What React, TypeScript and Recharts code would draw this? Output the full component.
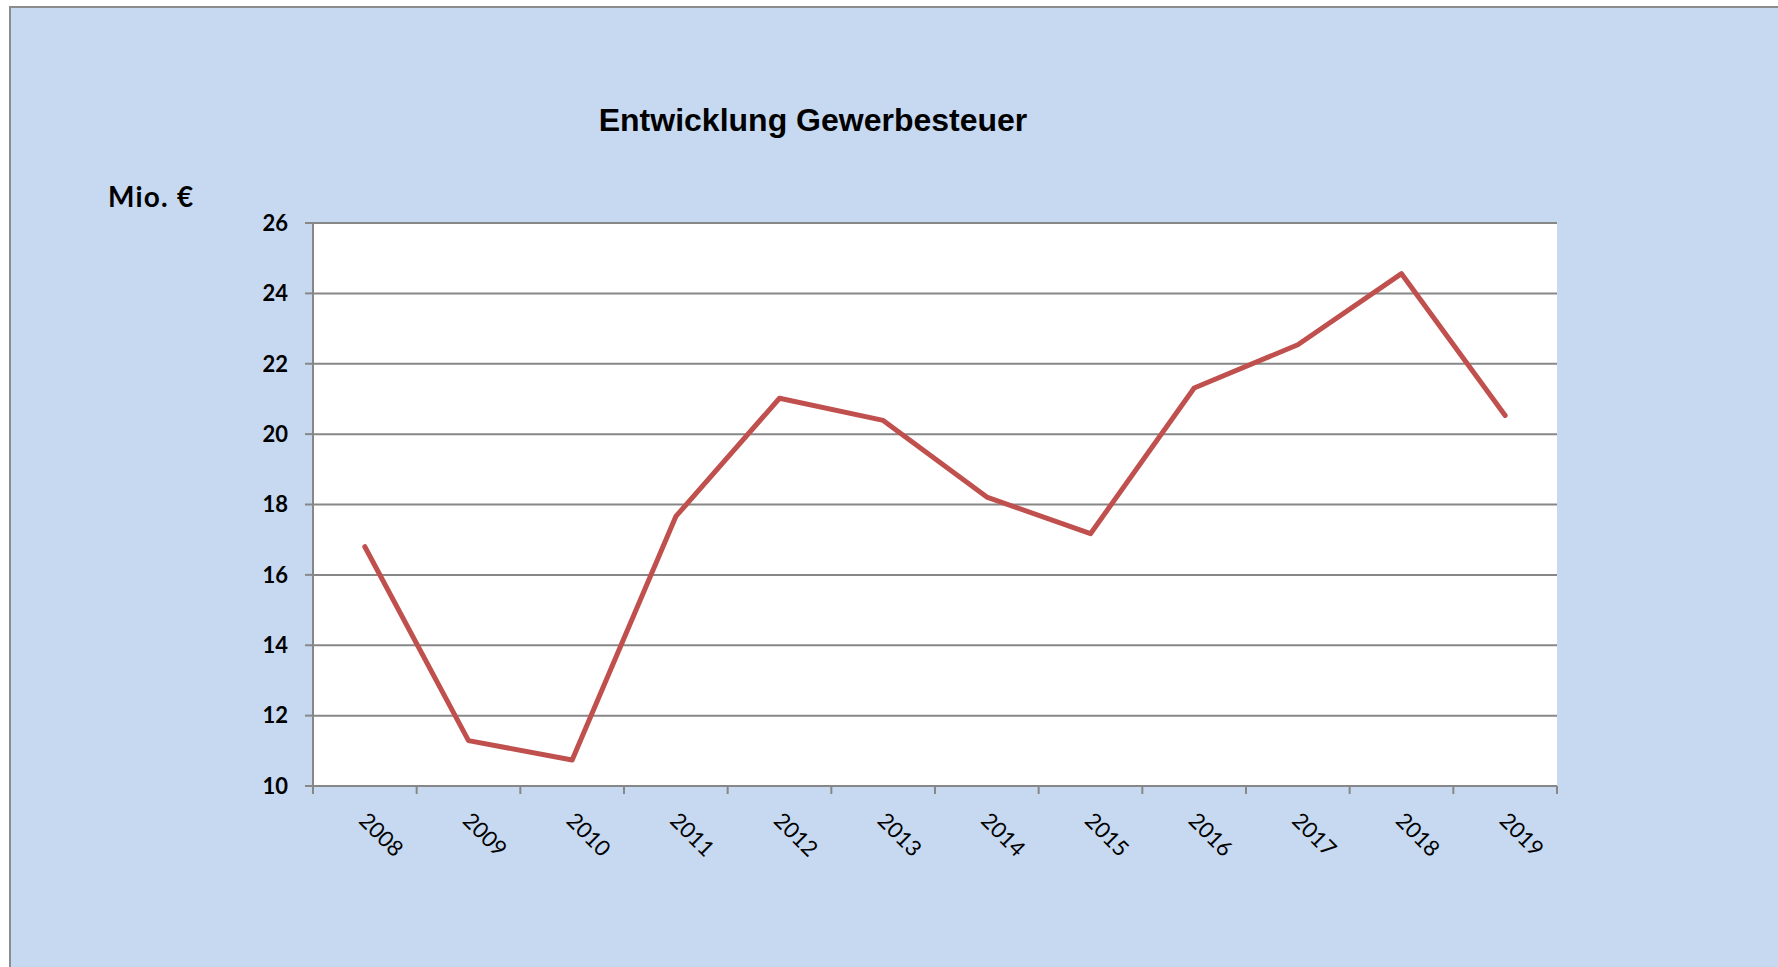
import { LineChart, Line, XAxis, YAxis, CartesianGrid } from 'recharts';

// Gewerbesteuer in Mio. €
const years = [2008, 2009, 2010, 2011, 2012, 2013, 2014, 2015, 2016, 2017, 2018, 2019];
const gewerbesteuer = [16.8, 11.29, 10.74, 17.66, 21.02, 20.39, 18.21, 17.17, 21.31, 22.54, 24.56, 20.53];
const yTicks = [10, 12, 14, 16, 18, 20, 22, 24, 26];

const data = years.map((year, i) => ({ year, value: gewerbesteuer[i] }));
// tick marks sit between the years, labels on the years
const xTicks = [...years.flatMap((y) => [y - 0.5, y]), years[years.length - 1] + 0.5];

const W = 1778;
const H = 967;
const gridGray = '#878787';

function YearTick({ x, y, payload }: any) {
  const v = payload.value;
  if (!Number.isInteger(v)) {
    return <line x1={x} y1={y} x2={x} y2={y + 8} stroke={gridGray} strokeWidth={2} />;
  }
  const ty = y + 30;
  return (
    <text
      x={x - 1}
      y={ty}
      transform={`rotate(45 ${x - 1} ${ty})`}
      textAnchor="start"
      dominantBaseline="central"
      fontFamily="Lato, 'Open Sans', sans-serif"
      fontSize={22}
      fill="#000"
    >
      {v}
    </text>
  );
}

export default function App() {
  return (
    <div style={{ position: 'absolute', left: 0, top: 0, width: W, height: H, overflow: 'hidden', background: '#fff' }}>
      <div
        style={{
          position: 'absolute',
          left: 9,
          top: 6,
          width: W,
          height: H + 20,
          background: '#C6D9F1',
          border: '2px solid #8c8c8c',
          boxSizing: 'border-box',
        }}
      />
      <div style={{ position: 'absolute', left: 0, top: 0 }}>
        <LineChart width={W} height={H} data={data} margin={{ top: 223, right: 221, bottom: 81, left: 0 }}>
          <CartesianGrid horizontal vertical={false} fill="#fff" stroke={gridGray} strokeWidth={2} strokeOpacity={1} />
          <XAxis
            dataKey="year"
            type="number"
            domain={[2007.5, 2019.5]}
            ticks={xTicks}
            interval={0}
            height={100}
            tickSize={0}
            tickMargin={0}
            tickLine={false}
            axisLine={{ stroke: gridGray, strokeWidth: 2 }}
            tick={<YearTick />}
          />
          <YAxis
            type="number"
            domain={[10, 26]}
            ticks={yTicks}
            interval={0}
            width={313}
            tickSize={8}
            tickMargin={17}
            tickLine={{ stroke: gridGray, strokeWidth: 2 }}
            axisLine={{ stroke: gridGray, strokeWidth: 2 }}
            tick={{ fill: '#000', fontFamily: "Lato, 'Open Sans', sans-serif", fontWeight: 700, fontSize: 22 }}
          />
          <Line
            type="linear"
            dataKey="value"
            stroke="#C0504D"
            strokeWidth={5}
            strokeLinecap="round"
            strokeLinejoin="round"
            dot={false}
            activeDot={false}
            isAnimationActive={false}
          />
        </LineChart>
      </div>
      <svg width={W} height={H} style={{ position: 'absolute', left: 0, top: 0, pointerEvents: 'none' }}>
        <text
          x={813}
          y={131}
          textAnchor="middle"
          fontFamily="'Liberation Sans', Arial, sans-serif"
          fontWeight={700}
          fontSize={32}
          fill="#000"
        >
          Entwicklung Gewerbesteuer
        </text>
        <text
          x={108}
          y={207}
          fontFamily="Lato, 'Open Sans', sans-serif"
          fontWeight={700}
          fontSize={28}
          letterSpacing={1.2}
          fill="#000"
        >
          Mio. €
        </text>
      </svg>
    </div>
  );
}
